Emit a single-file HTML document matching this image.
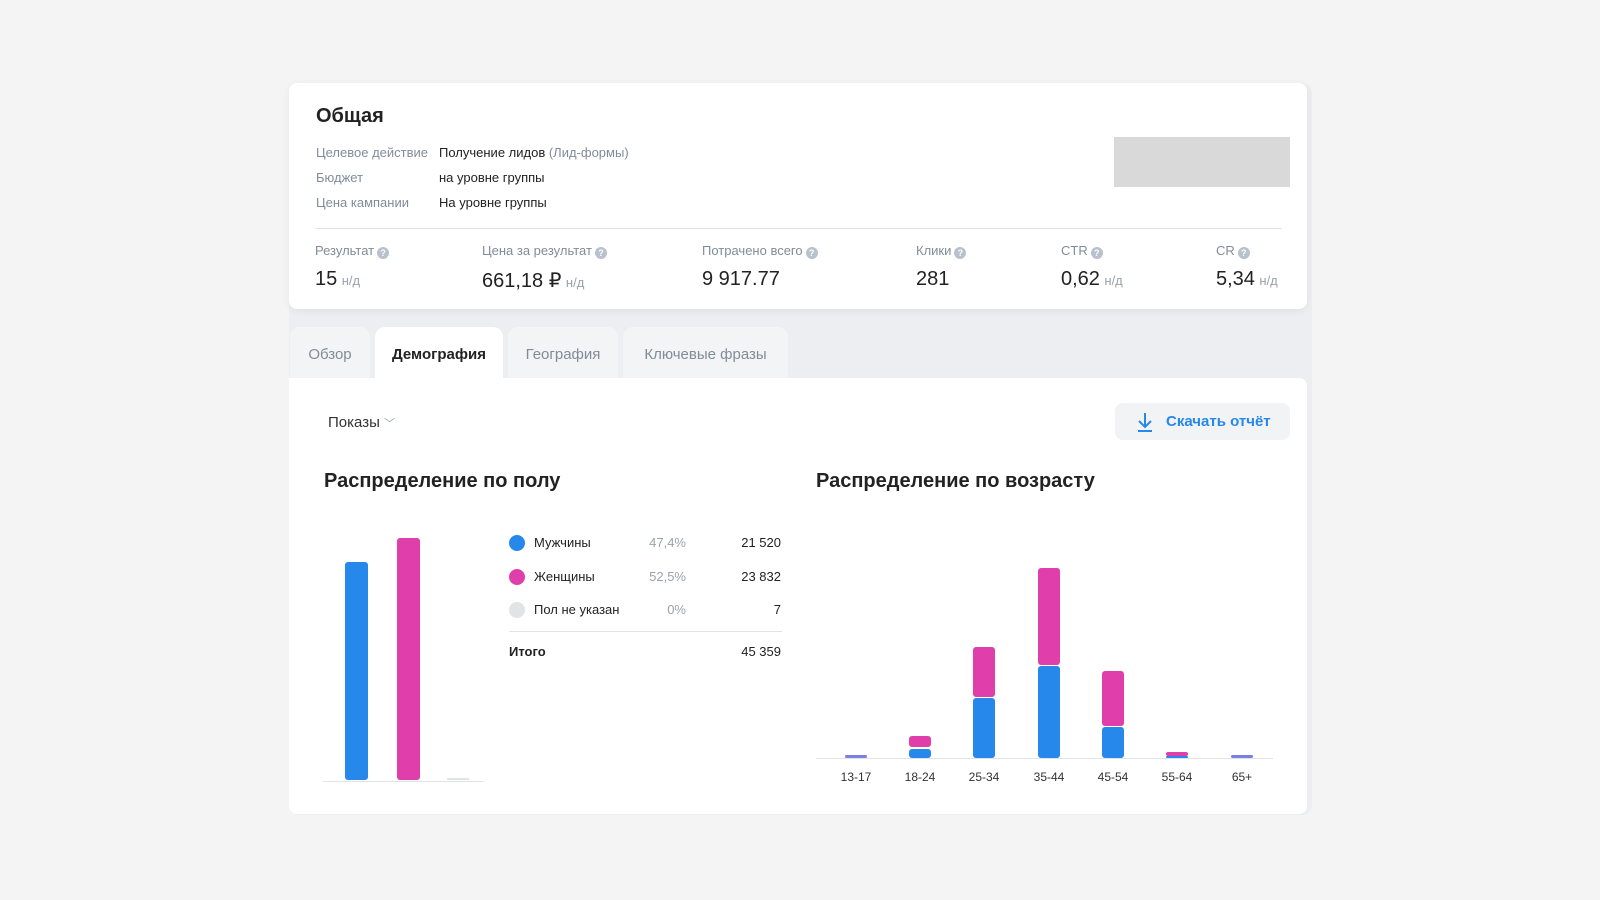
<!DOCTYPE html>
<html><head><meta charset="utf-8"><style>
*{margin:0;padding:0;box-sizing:border-box}
body{width:1600px;height:900px;background:#f4f4f5;font-family:"Liberation Sans",sans-serif;position:relative;overflow:hidden;color:#222}
.a{position:absolute;white-space:nowrap}
.panel{position:absolute;left:289px;top:83px;width:1023px;height:732px;background:#eceef1;border-radius:10px}
.card{position:absolute;background:#fff;border-radius:8px}
.lbl{color:#818c99;font-size:13px}
.val{font-size:13px;color:#222}
.sv{font-size:20px;color:#222}
.nd{font-size:13px;color:#99a2ad}
.q{display:inline-block;width:12px;height:12px;border-radius:50%;background:#b8c1cc;color:#fff;font-size:9px;text-align:center;line-height:12px;font-weight:bold;vertical-align:-1px;margin-left:3px}
.tab{position:absolute;top:327px;height:52px;background:#f3f4f6;border-radius:10px 10px 0 0;font-size:15px;color:#818c99;text-align:center;line-height:56px}
.bar{position:absolute;border-radius:3px}
.b{background:#2688eb}.p{background:#e03fab}
.xl{position:absolute;top:770px;font-size:12px;color:#333;width:50px;text-align:center}
</style></head><body>
<div class="panel"></div>
<div class="card" style="left:289px;top:83px;width:1018px;height:226px;box-shadow:0 2px 8px rgba(0,0,0,.06)"></div>
<div class="a" style="left:316px;top:105px;font-size:20px;font-weight:bold">Общая</div>
<div class="a lbl" style="left:316px;top:145px">Целевое действие</div>
<div class="a val" style="left:439px;top:145px">Получение лидов <span style="color:#818c99">(Лид-формы)</span></div>
<div class="a lbl" style="left:316px;top:170px">Бюджет</div>
<div class="a val" style="left:439px;top:170px">на уровне группы</div>
<div class="a lbl" style="left:316px;top:195px">Цена кампании</div>
<div class="a val" style="left:439px;top:195px">На уровне группы</div>
<div class="a" style="left:1114px;top:137px;width:176px;height:50px;background:#d9d9d9"></div>
<div class="a" style="left:315px;top:228px;width:967px;height:1px;background:#e1e5ea"></div>
<div class="a lbl" style="left:315px;top:243px">Результат<span class="q">?</span></div>
<div class="a" style="left:315px;top:268px"><span class="sv">15</span> <span class="nd">н/д</span></div>
<div class="a lbl" style="left:482px;top:243px">Цена за результат<span class="q">?</span></div>
<div class="a" style="left:482px;top:268px"><span class="sv">661,18 ₽</span> <span class="nd">н/д</span></div>
<div class="a lbl" style="left:702px;top:243px">Потрачено всего<span class="q">?</span></div>
<div class="a" style="left:702px;top:268px"><span class="sv">9 917.77</span></div>
<div class="a lbl" style="left:916px;top:243px">Клики<span class="q">?</span></div>
<div class="a" style="left:916px;top:268px"><span class="sv">281</span></div>
<div class="a lbl" style="left:1061px;top:243px">CTR<span class="q">?</span></div>
<div class="a" style="left:1061px;top:268px"><span class="sv">0,62</span> <span class="nd">н/д</span></div>
<div class="a lbl" style="left:1216px;top:243px">CR<span class="q">?</span></div>
<div class="a" style="left:1216px;top:268px"><span class="sv">5,34</span> <span class="nd">н/д</span></div>

<div class="tab" style="left:290px;width:80px">Обзор</div>
<div class="tab" style="left:375px;width:128px;background:#fff;color:#222;font-weight:bold">Демография</div>
<div class="tab" style="left:508px;width:110px">География</div>
<div class="tab" style="left:623px;width:165px">Ключевые фразы</div>
<div class="card" style="left:289px;top:378px;width:1018px;height:436px;border-radius:0 8px 8px 8px"></div>

<div class="a" style="left:328px;top:414px;font-size:15px;color:#333">Показы <span style="color:#99a2ad;font-size:11px">﹀</span></div>
<div class="a" style="left:1115px;top:403px;width:175px;height:37px;background:#f2f3f5;border-radius:8px"></div>
<svg class="a" style="left:1136px;top:411px" width="18" height="22" viewBox="0 0 18 22"><path d="M9 2v14M3 10l6 6 6-6M2 20h14" stroke="#2688eb" stroke-width="2" fill="none"/></svg>
<div class="a" style="left:1166px;top:413px;font-size:15px;color:#2688eb;font-weight:bold">Скачать отчёт</div>

<div class="a" style="left:324px;top:470px;font-size:20px;font-weight:bold">Распределение по полу</div>
<div class="bar b" style="left:345px;top:562px;width:23px;height:218px"></div>
<div class="bar p" style="left:397px;top:538px;width:23px;height:242px"></div>
<div class="a" style="left:447px;top:778px;width:22px;height:2px;background:#e1e3e6"></div>
<div class="a" style="left:323px;top:781px;width:160px;height:1px;background:#e1e3e6"></div>

<div class="a" style="left:509px;top:535px;width:16px;height:16px;border-radius:50%;background:#2688eb"></div>
<div class="a" style="left:509px;top:569px;width:16px;height:16px;border-radius:50%;background:#e03fab"></div>
<div class="a" style="left:509px;top:602px;width:16px;height:16px;border-radius:50%;background:#e1e3e6"></div>
<div class="a" style="left:534px;top:535px;font-size:13px">Мужчины</div>
<div class="a" style="left:534px;top:569px;font-size:13px">Женщины</div>
<div class="a" style="left:534px;top:602px;font-size:13px">Пол не указан</div>
<div class="a" style="left:636px;top:535px;width:50px;text-align:right;font-size:13px;color:#99a2ad">47,4%</div>
<div class="a" style="left:636px;top:569px;width:50px;text-align:right;font-size:13px;color:#99a2ad">52,5%</div>
<div class="a" style="left:636px;top:602px;width:50px;text-align:right;font-size:13px;color:#99a2ad">0%</div>
<div class="a" style="left:711px;top:535px;width:70px;text-align:right;font-size:13px">21 520</div>
<div class="a" style="left:711px;top:569px;width:70px;text-align:right;font-size:13px">23 832</div>
<div class="a" style="left:711px;top:602px;width:70px;text-align:right;font-size:13px">7</div>
<div class="a" style="left:509px;top:631px;width:273px;height:1px;background:#e1e3e6"></div>
<div class="a" style="left:509px;top:644px;font-size:13px;font-weight:bold">Итого</div>
<div class="a" style="left:711px;top:644px;width:70px;text-align:right;font-size:13px">45 359</div>

<div class="a" style="left:816px;top:470px;font-size:20px;font-weight:bold">Распределение по возрасту</div>
<div class="a" style="left:816px;top:758px;width:457px;height:1px;background:#e1e3e6"></div>
<div class="bar" style="left:845px;top:755px;width:22px;height:3px;background:#7b7fe0"></div>
<div class="bar p" style="left:909px;top:736px;width:22px;height:11px"></div>
<div class="bar b" style="left:909px;top:749px;width:22px;height:9px"></div>
<div class="bar p" style="left:973px;top:647px;width:22px;height:50px"></div>
<div class="bar b" style="left:973px;top:698px;width:22px;height:60px"></div>
<div class="bar p" style="left:1038px;top:568px;width:22px;height:97px"></div>
<div class="bar b" style="left:1038px;top:666px;width:22px;height:92px"></div>
<div class="bar p" style="left:1102px;top:671px;width:22px;height:55px"></div>
<div class="bar b" style="left:1102px;top:727px;width:22px;height:31px"></div>
<div class="bar p" style="left:1166px;top:752px;width:22px;height:4px"></div>
<div class="bar" style="left:1166px;top:756px;width:22px;height:2px;background:#2688eb"></div>
<div class="bar" style="left:1231px;top:755px;width:22px;height:3px;background:#7b7fe0"></div>
<div class="xl" style="left:831px">13-17</div>
<div class="xl" style="left:895px">18-24</div>
<div class="xl" style="left:959px">25-34</div>
<div class="xl" style="left:1024px">35-44</div>
<div class="xl" style="left:1088px">45-54</div>
<div class="xl" style="left:1152px">55-64</div>
<div class="xl" style="left:1217px">65+</div>
</body></html>
